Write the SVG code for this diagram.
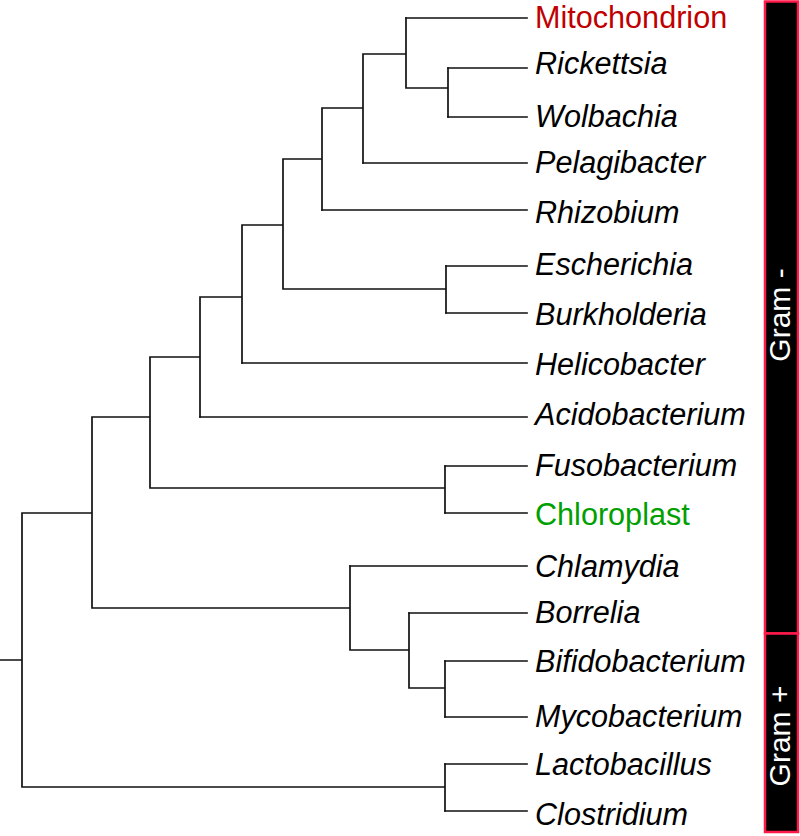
<svg xmlns="http://www.w3.org/2000/svg" width="800" height="836" viewBox="0 0 800 836">
<style>
  .br { fill: none; stroke: #111; stroke-width: 1.7; stroke-linecap: square; }
  .lab { font-family: "Liberation Sans", Arial, sans-serif; font-size: 30.6px; font-style: italic; fill: #000; }
  .mito { font-style: normal; fill: #c00000; }
  .chloro { font-style: normal; fill: #00a000; }
  .bar { fill: #000; stroke: #ff1a4a; stroke-width: 2.5; }
  .gram { font-family: "Liberation Sans", Arial, sans-serif; font-size: 30px; fill: #fff; text-anchor: middle; }
</style>
<rect width="800" height="836" fill="#fff"/>
<g id="connectors">
  <path class="br" d="M406,18H527 M448,68H527 M448,117H527 M363,163H527 M322,210H527 M446,266H527 M446,313H527 M242,363H527 M200,417H527 M445,466H527 M445,513H527 M350,566H527 M409,613H527 M445,661H527 M445,717H527 M445,764H527 M445,811H527"/>
  <path class="br" d="M448,68V117 M406,88H448 M406,18V88 M363,54H406 M363,54V163 M322,108H363 M322,108V210 M283,159H322 M446,266V313 M283,289H446 M283,159V289 M242,225H283 M242,225V363 M200,297H242 M200,297V417 M150,357H200 M445,466V513 M150,488H445 M150,357V488 M92,417H150 M445,661V717 M409,688H445 M409,613V688 M350,650H409 M350,566V650 M92,608H350 M92,417V608 M22,513H92 M445,764V811 M22,787H445 M22,513V787 M0,660H22"/>
</g>
<g id="leaf-mitochondrion"><text class="lab mito" x="535" y="28">Mitochondrion</text></g>
<g id="leaf-rickettsia"><text class="lab" x="535" y="73.5">Rickettsia</text></g>
<g id="leaf-wolbachia"><text class="lab" x="535" y="127">Wolbachia</text></g>
<g id="leaf-pelagibacter"><text class="lab" x="535" y="173">Pelagibacter</text></g>
<g id="leaf-rhizobium"><text class="lab" x="535" y="223">Rhizobium</text></g>
<g id="leaf-escherichia"><text class="lab" x="535" y="275">Escherichia</text></g>
<g id="leaf-burkholderia"><text class="lab" x="535" y="325">Burkholderia</text></g>
<g id="leaf-helicobacter"><text class="lab" x="535" y="375">Helicobacter</text></g>
<g id="leaf-acidobacterium"><text class="lab" x="535" y="425">Acidobacterium</text></g>
<g id="leaf-fusobacterium"><text class="lab" x="535" y="476">Fusobacterium</text></g>
<g id="leaf-chloroplast"><text class="lab chloro" x="535" y="525">Chloroplast</text></g>
<g id="leaf-chlamydia"><text class="lab" x="535" y="577">Chlamydia</text></g>
<g id="leaf-borrelia"><text class="lab" x="535" y="623">Borrelia</text></g>
<g id="leaf-bifidobacterium"><text class="lab" x="535" y="672">Bifidobacterium</text></g>
<g id="leaf-mycobacterium"><text class="lab" x="535" y="727">Mycobacterium</text></g>
<g id="leaf-lactobacillus"><text class="lab" x="535" y="775">Lactobacillus</text></g>
<g id="leaf-clostridium"><text class="lab" x="535" y="825">Clostridium</text></g>
<g id="gram-negative">
  <rect class="bar" x="765" y="1.5" width="33" height="632"/>
  <text class="gram" transform="translate(790,315) rotate(-90)">Gram -</text>
</g>
<g id="gram-positive">
  <rect class="bar" x="765" y="633.5" width="33" height="198.5"/>
  <text class="gram" transform="translate(790,736) rotate(-90)">Gram +</text>
</g>
</svg>
